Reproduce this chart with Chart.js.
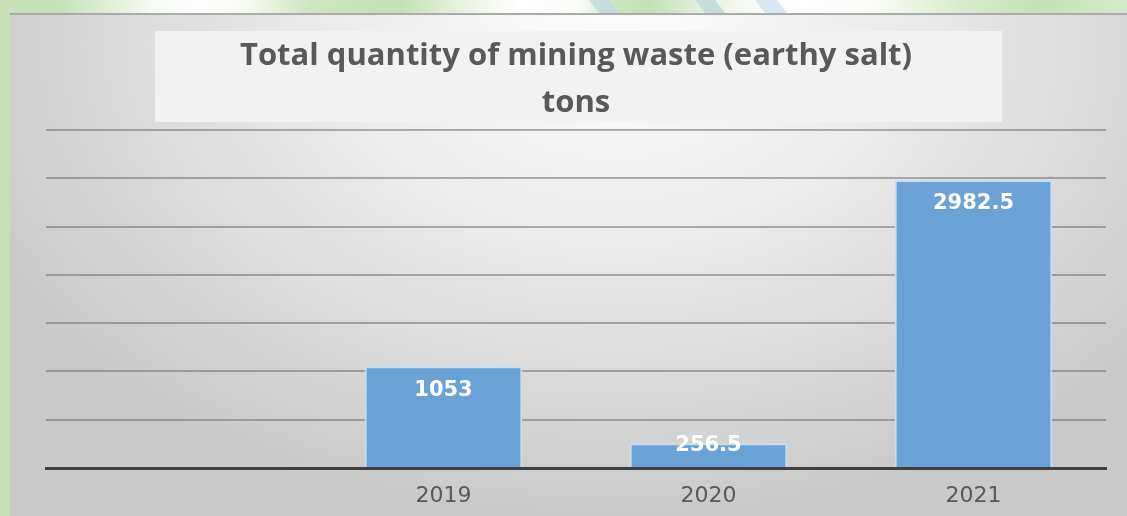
<!DOCTYPE html>
<html>
<head>
<meta charset="utf-8">
<script src="https://cdn.jsdelivr.net/npm/chart.js@4.4.1/dist/chart.umd.min.js"></script>
<style>
    html, body { margin: 0; padding: 0; }
    body {
        width: 1127px;
        height: 516px;
        position: relative;
        overflow: hidden;
        background: linear-gradient(to right,
            #c5e0b4 0px, #c8e1b8 60px, #f4f9f1 150px, #ffffff 200px, #f3f8ef 250px,
            #cfe5c1 310px, #c5e0b4 400px, #e8f2e1 460px, #ffffff 520px, #fafcf8 580px,
            #cde4bf 615px, #c5e0b4 650px, #e3efdb 700px, #f4f8f1 740px, #ffffff 800px,
            #f7faf4 880px, #d9ebcd 960px, #c5e0b4 1040px, #d6e9ca 1127px);
    }
    .stripe {
        position: absolute;
        top: 0;
        height: 13px;
        transform: skewX(38deg);
        transform-origin: top left;
    }
    #frame {
        position: absolute;
        left: 10px;
        top: 13px;
        right: 0;
        bottom: 0;
        border-top: 2px solid #aaaaaa;
        background: radial-gradient(ellipse 62% 95% at 54% 6%, #fcfcfc 0%, #eeeeee 35%, #dddddd 65%, #c9c9c9 100%);
    }
    #wrap {
        position: absolute;
        left: 0;
        top: 0;
        width: 1127px;
        height: 516px;
    }
</style>
</head>
<body>
<div class="stripe" style="left:589px;width:20px;background:#c8dce0;"></div>
<div class="stripe" style="left:695px;width:20px;background:#c6dcd8;"></div>
<div class="stripe" style="left:755px;width:22px;background:#dae6f0;"></div>
<div id="frame"></div>
<div id="wrap"><canvas id="wasteChart"></canvas></div>

<script>
const years = ['', '2019', '2020', '2021'];
const tons = [null, 1053, 256.5, 2982.5];
const titleLines = ['Total quantity of mining waste (earthy salt)', 'tons'];

const yMin = 0;
const yMax = 3500;
const yStep = 500;

// light panel behind the two title lines
const titleBox = {
    id: 'titleBox',
    beforeDraw(chart) {
        const ctx = chart.ctx;
        const w = 847;
        const x = (chart.width - w) / 2 + 15;
        ctx.save();
        ctx.fillStyle = '#f2f2f2';
        ctx.fillRect(x, 31, w, 91);
        ctx.restore();
    }
};

// white value labels just inside the top of each bar
const barLabels = {
    id: 'barLabels',
    afterDatasetsDraw(chart) {
        const ctx = chart.ctx;
        const meta = chart.getDatasetMeta(0);
        ctx.save();
        ctx.fillStyle = '#ffffff';
        ctx.font = 'bold 21px "DejaVu Sans", sans-serif';
        ctx.textAlign = 'center';
        ctx.textBaseline = 'middle';
        meta.data.forEach((bar, i) => {
            const v = tons[i];
            if (v === null) return;
            const y = Math.min(bar.y + 24, bar.base - 21);
            ctx.fillText(String(v), bar.x, y);
        });
        ctx.restore();
    }
};

new Chart(document.getElementById('wasteChart'), {
    type: 'bar',
    data: {
        labels: years,
        datasets: [{
            data: tons,
            backgroundColor: '#6aa2d6',
            borderColor: '#c7ddf1',
            borderWidth: 2,
            borderSkipped: 'bottom',
            categoryPercentage: 1.0,
            barPercentage: 0.595
        }]
    },
    options: {
        responsive: true,
        maintainAspectRatio: false,
        animation: false,
        layout: {
            padding: { left: 46, right: 21, top: 33, bottom: 8 }
        },
        plugins: {
            legend: { display: false },
            tooltip: { enabled: false },
            title: {
                display: true,
                text: titleLines,
                color: '#595959',
                font: { family: "'Open Sans', sans-serif", size: 31, weight: 'bold', lineHeight: 1.5 },
                padding: { top: 0, bottom: 4 }
            }
        },
        scales: {
            x: {
                grid: { display: false, drawTicks: false },
                border: { display: true, color: '#3f3f3f', width: 3 },
                ticks: {
                    color: '#595959',
                    padding: 15,
                    font: { family: "'DejaVu Sans', sans-serif", size: 22 }
                },
                afterFit(scale) { scale.height = 40; }
            },
            y: {
                min: yMin,
                max: yMax,
                ticks: { display: false, stepSize: yStep },
                grid: { color: 'rgba(100, 100, 100, 0.5)', lineWidth: 2, drawTicks: false },
                border: { display: false }
            }
        }
    },
    plugins: [titleBox, barLabels]
});
</script>
</body>
</html>
